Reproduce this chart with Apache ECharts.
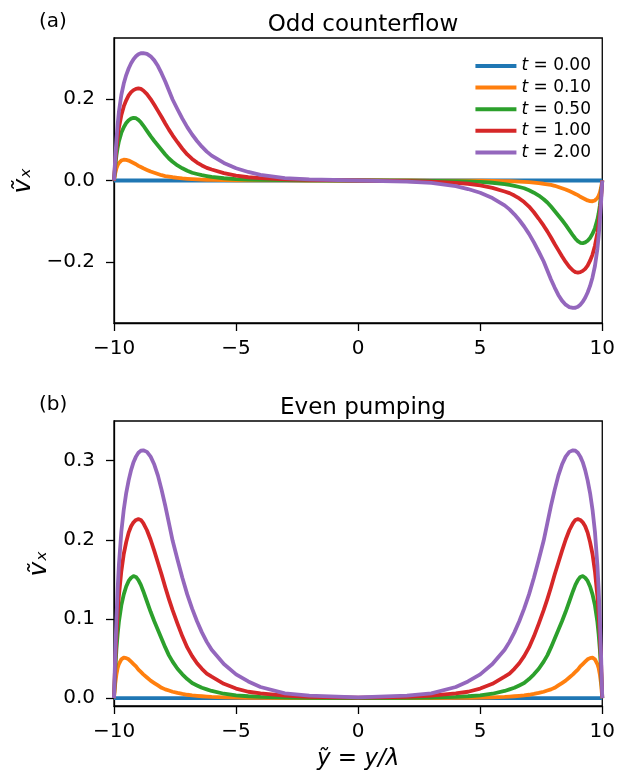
<!DOCTYPE html>
<html>
<head>
<meta charset="utf-8">
<script src="https://cdn.jsdelivr.net/npm/echarts@6/dist/echarts.min.js"></script>
<style>html,body{margin:0;padding:0;background:#fff}#c{width:618px;height:777px}</style>
</head>
<body>
<div id="c"></div>
<script>
// x positions (y~ = y/lambda)
const xs = [-10, -9.95, -9.9, -9.85, -9.8, -9.7, -9.6, -9.5, -9.4, -9.3, -9.2, -9.1, -9, -8.9, -8.8, -8.65, -8.5, -8.35, -8.2, -8.05, -7.9, -7.75, -7.6, -7.4, -7.2, -7, -6.8, -6.6, -6.4, -6.2, -6, -5.5, -5, -4.5, -4, -3, -2, 0,
            2, 3, 4, 4.5, 5, 5.5, 6, 6.2, 6.4, 6.6, 6.8, 7, 7.2, 7.4, 7.6, 7.75, 7.9, 8.05, 8.2, 8.35, 8.5, 8.65, 8.8, 8.9, 9, 9.1, 9.2, 9.3, 9.4, 9.5, 9.6, 9.7, 9.8, 9.85, 9.9, 9.95, 10];
const xsT0 = [-10, 0, 10];

const timeLabels = ['0.00', '0.10', '0.50', '1.00', '2.00'];
const colors = ['#1f77b4', '#ff7f0e', '#2ca02c', '#d62728', '#9467bd'];

// (a) Odd counterflow
const oddT000 = [0, 0, 0];
const oddT010 = [0, 0.018, 0.030, 0.038, 0.043, 0.049, 0.051, 0.0505, 0.049, 0.046, 0.043, 0.040, 0.036, 0.033, 0.030, 0.026, 0.022, 0.019, 0.016, 0.013, 0.011, 0.0095, 0.008, 0.0065, 0.0052, 0.0042, 0.0034, 0.0028, 0.0023, 0.0019, 0.0015, 0.001, 0.0006, 0.0004, 0.0002, 0.0001, 0, 0,
  0, -0.0001, -0.0002, -0.0004, -0.0006, -0.001, -0.0015, -0.0019, -0.0023, -0.0028, -0.0034, -0.0042, -0.0052, -0.0065, -0.008, -0.0095, -0.011, -0.013, -0.016, -0.019, -0.022, -0.026, -0.030, -0.033, -0.036, -0.040, -0.043, -0.046, -0.049, -0.0505, -0.051, -0.049, -0.043, -0.038, -0.030, -0.018, 0];
const oddT050 = [0, 0.035, 0.062, 0.081, 0.096, 0.117, 0.131, 0.141, 0.148, 0.152, 0.154, 0.153, 0.149, 0.143, 0.135, 0.122, 0.109, 0.097, 0.086, 0.075, 0.064, 0.054, 0.046, 0.037, 0.030, 0.024, 0.019, 0.016, 0.013, 0.011, 0.009, 0.0055, 0.0035, 0.0023, 0.0015, 0.0007, 0.0003, 0,
  -0.0003, -0.0007, -0.0015, -0.0023, -0.0035, -0.0055, -0.009, -0.011, -0.013, -0.016, -0.019, -0.024, -0.030, -0.037, -0.046, -0.054, -0.064, -0.075, -0.086, -0.097, -0.109, -0.122, -0.135, -0.143, -0.149, -0.153, -0.154, -0.152, -0.148, -0.141, -0.131, -0.117, -0.096, -0.081, -0.062, -0.035, 0];
const oddT100 = [0, 0.045, 0.080, 0.107, 0.129, 0.160, 0.182, 0.197, 0.209, 0.217, 0.222, 0.225, 0.226, 0.225, 0.221, 0.212, 0.200, 0.186, 0.171, 0.156, 0.140, 0.125, 0.111, 0.094, 0.078, 0.064, 0.053, 0.044, 0.037, 0.031, 0.027, 0.018, 0.012, 0.008, 0.006, 0.003, 0.0015, 0,
  -0.0015, -0.003, -0.006, -0.008, -0.012, -0.018, -0.027, -0.031, -0.037, -0.044, -0.053, -0.064, -0.078, -0.094, -0.111, -0.125, -0.140, -0.156, -0.171, -0.186, -0.200, -0.212, -0.221, -0.225, -0.226, -0.225, -0.222, -0.217, -0.209, -0.197, -0.182, -0.160, -0.129, -0.107, -0.080, -0.045, 0];
const oddT200 = [0, 0.055, 0.100, 0.138, 0.168, 0.210, 0.238, 0.259, 0.275, 0.288, 0.298, 0.305, 0.310, 0.3125, 0.313, 0.311, 0.305, 0.295, 0.281, 0.263, 0.243, 0.221, 0.199, 0.175, 0.152, 0.131, 0.113, 0.097, 0.083, 0.071, 0.061, 0.043, 0.030, 0.021, 0.014, 0.006, 0.003, 0,
  -0.003, -0.006, -0.014, -0.021, -0.030, -0.043, -0.061, -0.071, -0.083, -0.097, -0.113, -0.131, -0.152, -0.175, -0.199, -0.221, -0.243, -0.263, -0.281, -0.295, -0.305, -0.311, -0.313, -0.3125, -0.310, -0.305, -0.298, -0.288, -0.275, -0.259, -0.238, -0.210, -0.168, -0.138, -0.100, -0.055, 0];

// (b) Even pumping
const evenT000 = [0, 0, 0];
const evenT010 = [0, 0.018, 0.030, 0.038, 0.043, 0.049, 0.051, 0.0505, 0.049, 0.046, 0.043, 0.040, 0.036, 0.033, 0.030, 0.026, 0.022, 0.019, 0.016, 0.013, 0.011, 0.0095, 0.008, 0.0065, 0.0052, 0.0042, 0.0034, 0.0028, 0.0023, 0.0019, 0.0015, 0.001, 0.0006, 0.0004, 0.0002, 0.0001, 0, 0,
  0, 0.0001, 0.0002, 0.0004, 0.0006, 0.001, 0.0015, 0.0019, 0.0023, 0.0028, 0.0034, 0.0042, 0.0052, 0.0065, 0.008, 0.0095, 0.011, 0.013, 0.016, 0.019, 0.022, 0.026, 0.030, 0.033, 0.036, 0.040, 0.043, 0.046, 0.049, 0.0505, 0.051, 0.049, 0.043, 0.038, 0.030, 0.018, 0];
const evenT050 = [0, 0.035, 0.062, 0.081, 0.096, 0.117, 0.131, 0.141, 0.148, 0.152, 0.154, 0.153, 0.149, 0.143, 0.135, 0.122, 0.109, 0.097, 0.086, 0.075, 0.064, 0.054, 0.046, 0.037, 0.030, 0.024, 0.019, 0.016, 0.013, 0.011, 0.009, 0.0055, 0.0035, 0.0023, 0.0015, 0.0007, 0.0003, 0,
  0.0003, 0.0007, 0.0015, 0.0023, 0.0035, 0.0055, 0.009, 0.011, 0.013, 0.016, 0.019, 0.024, 0.030, 0.037, 0.046, 0.054, 0.064, 0.075, 0.086, 0.097, 0.109, 0.122, 0.135, 0.143, 0.149, 0.153, 0.154, 0.152, 0.148, 0.141, 0.131, 0.117, 0.096, 0.081, 0.062, 0.035, 0];
const evenT100 = [0, 0.045, 0.080, 0.107, 0.129, 0.160, 0.182, 0.197, 0.209, 0.217, 0.222, 0.225, 0.226, 0.225, 0.221, 0.212, 0.200, 0.186, 0.171, 0.156, 0.140, 0.125, 0.111, 0.094, 0.078, 0.064, 0.053, 0.044, 0.037, 0.031, 0.027, 0.018, 0.012, 0.008, 0.006, 0.003, 0.0015, 0.0005,
  0.0015, 0.003, 0.006, 0.008, 0.012, 0.018, 0.027, 0.031, 0.037, 0.044, 0.053, 0.064, 0.078, 0.094, 0.111, 0.125, 0.140, 0.156, 0.171, 0.186, 0.200, 0.212, 0.221, 0.225, 0.226, 0.225, 0.222, 0.217, 0.209, 0.197, 0.182, 0.160, 0.129, 0.107, 0.080, 0.045, 0];
const evenT200 = [0, 0.055, 0.100, 0.138, 0.168, 0.210, 0.238, 0.259, 0.275, 0.288, 0.298, 0.305, 0.310, 0.3125, 0.313, 0.311, 0.305, 0.295, 0.281, 0.263, 0.243, 0.221, 0.199, 0.175, 0.152, 0.131, 0.113, 0.097, 0.083, 0.071, 0.061, 0.043, 0.030, 0.021, 0.014, 0.006, 0.003, 0.001,
  0.003, 0.006, 0.014, 0.021, 0.030, 0.043, 0.061, 0.071, 0.083, 0.097, 0.113, 0.131, 0.152, 0.175, 0.199, 0.221, 0.243, 0.263, 0.281, 0.295, 0.305, 0.311, 0.313, 0.3125, 0.310, 0.305, 0.298, 0.288, 0.275, 0.259, 0.238, 0.210, 0.168, 0.138, 0.100, 0.055, 0];

const oddSeries = [oddT000, oddT010, oddT050, oddT100, oddT200];
const evenSeries = [evenT000, evenT010, evenT050, evenT100, evenT200];

const xTicks = [-10, -5, 0, 5, 10];
const oddYTicks = [-0.2, 0, 0.2];
const evenYTicks = [0, 0.1, 0.2, 0.3];

const FONT = 'DejaVu Sans';
const minus = v => String(v).replace('-', '\u2212');

function xAxis(grid, withName) {
  return {
    type: 'value', gridIndex: grid, min: -10, max: 10, interval: 5,
    axisLine: { show: true, onZero: false, lineStyle: { color: '#000', width: 1.3 } },
    axisTick: { show: true, length: 8, customValues: xTicks, lineStyle: { color: '#000', width: 1.3 } },
    axisLabel: { color: '#000', fontFamily: FONT, fontSize: 20, margin: 16, customValues: xTicks, formatter: v => minus(v) },
    splitLine: { show: false },
    name: withName ? '\u1EF9 = y/\u03BB' : '',
    nameLocation: 'middle', nameGap: 42,
    nameTextStyle: { color: '#000', fontFamily: FONT, fontSize: 23, fontStyle: 'italic' }
  };
}
function yAxis(grid, min, max, ticks, gap) {
  return {
    type: 'value', gridIndex: grid, min: min, max: max,
    axisLine: { show: true, onZero: false, lineStyle: { color: '#000', width: 1.3 } },
    axisTick: { show: true, length: 8, customValues: ticks, lineStyle: { color: '#000', width: 1.3 } },
    axisLabel: { color: '#000', fontFamily: FONT, fontSize: 20, margin: 19, customValues: ticks,
                 formatter: v => minus(Number(v).toFixed(1)) },
    splitLine: { show: false },
    name: '\u1E7D\u2093', nameLocation: 'middle', nameRotate: 90, nameGap: gap,
    nameTextStyle: { color: '#000', fontFamily: FONT, fontSize: 25, fontStyle: 'italic' }
  };
}

const series = [];
[oddSeries, evenSeries].forEach((set, g) => {
  set.forEach((vals, i) => {
    const xv = i === 0 ? xsT0 : xs;
    series.push({
      type: 'line', name: 't = ' + timeLabels[i], xAxisIndex: g, yAxisIndex: g,
      data: xv.map((x, k) => [x, vals[k]]),
      showSymbol: false, symbol: 'none', smooth: false,
      lineStyle: { color: colors[i], width: 3.8, join: 'round', cap: 'butt' }, itemStyle: { color: colors[i] },
      clip: true, animation: false, z: 2 + i
    });
  });
});

const chart = echarts.init(document.getElementById('c'), null, { renderer: 'canvas' });
chart.setOption({
  animation: false,
  backgroundColor: '#fff',
  title: [
    { text: 'Odd counterflow', left: 358, top: 9, textAlign: 'center',
      textStyle: { fontFamily: FONT, fontSize: 23, fontWeight: 'normal', color: '#000' } },
    { text: 'Even pumping', left: 358, top: 392, textAlign: 'center',
      textStyle: { fontFamily: FONT, fontSize: 23, fontWeight: 'normal', color: '#000' } },
    { text: '(a)', left: 34, top: 7,
      textStyle: { fontFamily: FONT, fontSize: 20, fontWeight: 'normal', color: '#000' } },
    { text: '(b)', left: 34, top: 390,
      textStyle: { fontFamily: FONT, fontSize: 20, fontWeight: 'normal', color: '#000' } }
  ],
  grid: [
    { left: 114, top: 38, width: 489, height: 285, show: true, borderColor: '#000', borderWidth: 1.3, backgroundColor: 'transparent' },
    { left: 114, top: 421, width: 489, height: 285, show: true, borderColor: '#000', borderWidth: 1.3, backgroundColor: 'transparent' }
  ],
  xAxis: [xAxis(0, false), xAxis(1, true)],
  yAxis: [yAxis(0, -0.35, 0.35, oddYTicks, 74), yAxis(1, -0.01, 0.35, evenYTicks, 62)],
  legend: {
    orient: 'vertical', right: 22, top: 51, itemWidth: 41, itemHeight: 4, itemGap: 1.6,
    icon: 'rect',
    data: timeLabels.map(t => 't = ' + t),
    formatter: n => '{i|t}{r| = ' + n.split('= ')[1] + '}',
    textStyle: { color: '#000', fontFamily: FONT, fontSize: 17, lineHeight: 20,
      rich: { i: { fontStyle: 'italic', fontFamily: FONT, fontSize: 17 }, r: { fontFamily: FONT, fontSize: 17 } } }
  },
  series: series
});
</script>
</body>
</html>
